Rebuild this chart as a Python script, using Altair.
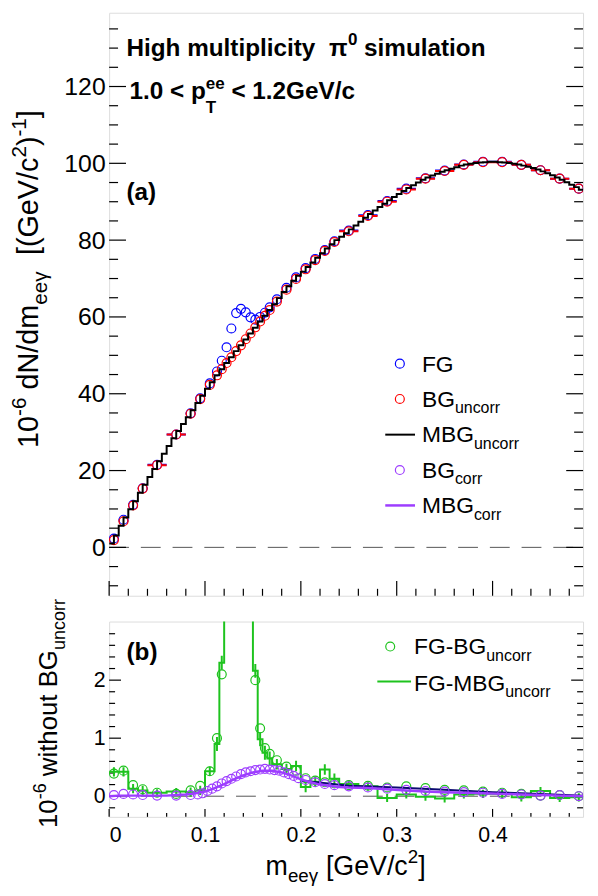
import altair as alt
import pandas as pd

FONT = "Liberation Sans"

# ---------------- data ----------------
# variable binning shared by FG, BG_uncorr and the FG-BG differences
bin_edges = [0.0, 0.01, 0.02, 0.03, 0.04, 0.06, 0.08, 0.09, 0.10, 0.11, 0.115, 0.12,
             0.125, 0.13, 0.135, 0.14, 0.145, 0.15, 0.155, 0.16, 0.165, 0.17, 0.18,
             0.19, 0.20, 0.21, 0.22, 0.23, 0.24, 0.26, 0.28, 0.30, 0.32, 0.34, 0.36,
             0.38, 0.40, 0.42, 0.44, 0.46, 0.48, 0.50]
fg = [2.3, 7.2, 11.1, 15.4, 21.5, 29.4, 34.9, 38.8, 42.7, 45.8, 48.6, 52.1, 57.0, 61.0,
      62.1, 61.2, 59.9, 59.3, 60.0, 61.1, 62.5, 64.6, 67.6, 70.3, 72.7, 75.1, 77.4, 79.7,
      82.5, 86.5, 90.2, 93.4, 96.1, 98.1, 99.7, 100.4, 100.4, 99.6, 98.2, 96.0, 93.4]
bg_uncorr = [1.9, 6.8, 10.9, 15.3, 21.4, 29.4, 34.8, 38.6, 42.3, 44.8, 46.4, 48.0, 49.5,
             51.1, 52.6, 54.2, 55.7, 57.3, 58.8, 60.3, 61.8, 64.0, 67.1, 69.9, 72.4, 74.8,
             77.2, 79.5, 82.3, 86.3, 90.0, 93.2, 96.0, 98.0, 99.6, 100.3, 100.3, 99.6,
             98.2, 96.0, 93.4]
fg_minus_bg = [0.39, 0.44, 0.19, 0.12, 0.06, 0.04, 0.10, 0.18, 0.43, 1.0, 2.1, 4.1, 7.5,
               9.9, 9.5, 7.0, 4.2, 2.0, 1.17, 0.83, 0.73, 0.62, 0.51, 0.44, 0.31, 0.27,
               0.24, 0.22, 0.19, 0.18, 0.15, 0.17, 0.14, 0.11, 0.10, 0.08, 0.06, 0.04,
               0.01, 0.02, 0.0]
fg_minus_mbg = [0.42, 0.42, 0.13, 0.10, 0.06, 0.08, 0.07, 0.10, 0.43, 0.90, 2.3, 4.3, 7.6,
                10.0, 9.6, 7.1, 4.3, 2.16, 0.98, 0.75, 0.65, 0.55, 0.47, 0.52, 0.16, 0.25,
                0.46, 0.30, 0.21, 0.17, -0.03, 0.03, -0.01, -0.04, 0.03, 0.04, 0.04,
                -0.02, 0.09, -0.03, -0.02]
fg_minus_mbg_err = [0.08, 0.08, 0.08, 0.08, 0.06, 0.06, 0.08, 0.08, 0.08,
                    0.12, 0.12, 0.12, 0.12, 0.12, 0.12, 0.12, 0.12, 0.12, 0.12, 0.12, 0.12,
                    0.09, 0.09, 0.09, 0.09, 0.09, 0.09, 0.09,
                    0.07, 0.07, 0.07, 0.07, 0.07, 0.07, 0.07, 0.07, 0.07, 0.07, 0.07, 0.07, 0.07]

# MBG_uncorr histogram: uniform bins of 0.005 starting at 0
mbg_start = 0.0
mbg_width = 0.005
mbg_uncorr = [1.0, 3.1, 5.6, 7.8, 9.9, 12.0, 14.2, 16.3, 18.3, 20.4,
              22.4, 24.4, 26.4, 28.4, 30.3, 32.1, 33.9, 35.7, 37.6, 39.5,
              41.3, 43.0, 44.8, 46.4, 48.0, 49.5, 51.1, 52.6, 54.1, 55.7,
              57.2, 58.8, 60.3, 61.8, 63.3, 64.9, 66.5, 68.0, 69.4, 70.7,
              71.8, 73.0, 74.2, 75.4, 76.6, 77.8, 78.9, 80.0, 80.9, 81.8,
              82.8, 83.8, 84.8, 85.8, 86.8, 87.7, 88.6, 89.5, 90.4, 91.2,
              92.0, 92.8, 93.6, 94.3, 95.0, 95.7, 96.3, 96.8, 97.3, 97.8,
              98.2, 98.6, 99.0, 99.4, 99.7, 99.9, 100.1, 100.2, 100.3, 100.4,
              100.4, 100.3, 100.2, 100.1, 99.9, 99.7, 99.4, 99.1, 98.8, 98.4,
              97.9, 97.4, 96.9, 96.3, 95.7, 95.1, 94.4, 93.8, 93.1]

bgcorr_x = [0.005, 0.015, 0.025, 0.035, 0.05, 0.07, 0.085,
            0.0925, 0.0975, 0.1025, 0.1075, 0.1125, 0.1175, 0.1225, 0.1275, 0.1325,
            0.1375, 0.1425, 0.1475, 0.1525, 0.1575, 0.1625, 0.1675, 0.1725, 0.1775,
            0.1825, 0.1875, 0.1925, 0.1975,
            0.205, 0.215, 0.225, 0.235,
            0.25, 0.27, 0.29, 0.31, 0.33, 0.35, 0.37, 0.39, 0.41, 0.43, 0.45, 0.47, 0.49]
bgcorr_y = [0.02, 0.04, 0.03, 0.02, 0.01, 0.01, 0.02,
            0.03, 0.05, 0.09, 0.13, 0.17, 0.22, 0.26, 0.30, 0.34, 0.38, 0.41, 0.43,
            0.45, 0.46, 0.47, 0.46, 0.45, 0.44, 0.41, 0.38, 0.35, 0.31,
            0.28, 0.24, 0.21, 0.19,
            0.17, 0.15, 0.13, 0.11, 0.09, 0.08, 0.07, 0.06, 0.04, 0.03, 0.01, 0.02, 0.0]

mbgcorr_x = [0.0, 0.01, 0.02, 0.03, 0.04, 0.05, 0.06, 0.07, 0.08, 0.09, 0.10, 0.11, 0.12,
             0.13, 0.14, 0.15, 0.16, 0.17, 0.18, 0.19, 0.20, 0.21, 0.22, 0.23, 0.24, 0.25,
             0.27, 0.29, 0.31, 0.33, 0.35, 0.37, 0.39, 0.41, 0.43, 0.45, 0.47, 0.4944]
mbgcorr_y = [0.0, 0.01, 0.01, 0.01, 0.01, 0.01, 0.01, 0.02, 0.03, 0.05, 0.08, 0.14, 0.21,
             0.29, 0.36, 0.41, 0.44, 0.44, 0.41, 0.36, 0.29, 0.24, 0.20, 0.18, 0.16, 0.15,
             0.14, 0.12, 0.10, 0.08, 0.07, 0.06, 0.05, 0.04, 0.03, 0.02, 0.01, 0.0]

navy_x = [0.20, 0.25, 0.30, 0.35, 0.40, 0.45, 0.4944]
navy_y = [0.27, 0.18, 0.15, 0.11, 0.07, 0.04, 0.01]

x_ticks_major = [0, 0.1, 0.2, 0.3, 0.4]
x_ticks_minor = [0.02, 0.04, 0.06, 0.08, 0.12, 0.14, 0.16, 0.18, 0.22, 0.24, 0.26, 0.28,
                 0.32, 0.34, 0.36, 0.38, 0.42, 0.44, 0.46, 0.48]
yT_ticks_major = [0, 20, 40, 60, 80, 100, 120]
yT_ticks_minor = [-10, -5, 5, 10, 15, 25, 30, 35, 45, 50, 55, 65, 70, 75, 85, 90, 95,
                  105, 110, 115, 125, 130, 135]
yB_ticks_major = [0, 1, 2]
yB_ticks_minor = [-0.2, 0.2, 0.4, 0.6, 0.8, 1.2, 1.4, 1.6, 1.8, 2.2, 2.4, 2.6, 2.8]

# ---------------- colours / layout ----------------
BLUE, RED, BLACK = "#0000ff", "#ff0000", "#000000"
PURPLE, GREEN, NAVY = "#9d3dff", "#1ec31e", "#0b0b70"

W, H1, H2, GAP = 478, 588, 197, 26
X0 = 107.5            # page x of the plot frames
Y0T = 8.8             # page y of the top frame
Y0B = Y0T + H1 + GAP  # page y of the bottom frame
MARKER_GAP = 0.0047   # error bars are not drawn inside the marker (ROOT style)

xscale = alt.Scale(domain=[0, 0.4944], nice=False, zero=False)
ysT = alt.Scale(domain=[-12.6, 139.2], nice=False, zero=False)
ysB = alt.Scale(domain=[-0.356, 3.01], nice=False, zero=False)

axT = alt.Axis(values=yT_ticks_major, ticks=False, tickSize=0, domain=False, grid=False,
               labelFontSize=25, labelFont=FONT, labelColor="black", labelPadding=4,
               title=None)
axB = alt.Axis(values=yB_ticks_major, ticks=False, tickSize=0, domain=False, grid=False,
               labelFontSize=21.5, labelFont=FONT, labelColor="black", labelPadding=4,
               format="d", title=None)
axX = alt.Axis(values=x_ticks_major, ticks=False, tickSize=0, domain=False, grid=False,
               labelFontSize=21.5, labelFont=FONT, labelColor="black", labelPadding=8,
               format=".1~f", labelBaseline="top", title=None)


def XT(f):
    return alt.X(f, type="quantitative", scale=xscale, axis=None)


def XB(f):
    return alt.X(f, type="quantitative", scale=xscale, axis=axX)


def YT(f):
    return alt.Y(f, type="quantitative", scale=ysT, axis=axT)


def YB(f):
    return alt.Y(f, type="quantitative", scale=ysB, axis=axB)


ONE = pd.DataFrame({"k": [0]})

# ---- text helpers (Arial / Liberation Sans advance widths) ----
REGW = {' ': 278, '(': 333, ')': 333, '[': 278, ']': 278, '/': 278, '-': 333, '<': 584,
        '.': 278, 'A': 667, 'B': 667, 'C': 722, 'F': 611, 'G': 778, 'H': 722, 'M': 833,
        'N': 722, 'T': 611, 'V': 667, 'a': 556, 'b': 556, 'c': 500, 'd': 556, 'e': 556,
        'g': 556, 'h': 556, 'i': 222, 'l': 222, 'm': 833, 'n': 556, 'o': 556, 'p': 556,
        'r': 333, 's': 500, 't': 278, 'u': 556, 'w': 722, 'y': 500, 'γ': 520, 'π': 556}
BOLDW = {' ': 278, '(': 333, ')': 333, '<': 584, '.': 278, '/': 278, 'G': 778, 'H': 722,
         'T': 611, 'V': 667, 'a': 556, 'b': 611, 'c': 556, 'e': 556, 'g': 611, 'h': 611,
         'i': 278, 'l': 278, 'm': 889, 'n': 611, 'o': 611, 'p': 611, 's': 556, 't': 333,
         'u': 611, 'y': 556, 'π': 780}


def tw(s, size, bold):
    tab = BOLDW if bold else REGW
    return sum(tab.get(ch, 556) for ch in s) * size / 1000.0


def text_layer(t, x, y, size, bold, rot, color):
    return alt.Chart(ONE).mark_text(
        text=t, fontSize=size, font=FONT, fontWeight="bold" if bold else "normal",
        align="left", baseline="alphabetic", angle=270 if rot else 0, color=color
    ).encode(x=alt.value(x), y=alt.value(y))


def rich(pieces, x, y, size, bold=False, rot=False, anchor="start", color="black",
         small=0.7, sup_shift=0.42, sub_shift=0.29, stack_sub=0.55):
    items, total = [], 0.0
    for p in pieces:
        if p[0] == "n":
            w = tw(p[1], size, bold)
        elif p[0] in ("sup", "sub"):
            w = tw(p[1], size * small, bold)
        else:
            w = max(tw(p[1], size * small, bold), tw(p[2], size * small, bold))
        items.append((p, w))
        total += w
    pos = {"start": 0.0, "end": -total, "middle": -total / 2}[anchor]
    layers = []
    for p, w in items:
        if p[0] == "n":
            segs = [(p[1], size, 0.0)]
        elif p[0] == "sup":
            segs = [(p[1], size * small, -sup_shift * size)]
        elif p[0] == "sub":
            segs = [(p[1], size * small, sub_shift * size)]
        else:
            segs = [(p[1], size * small, -sup_shift * size),
                    (p[2], size * small, stack_sub * size)]
        for t, s, off in segs:
            lead = len(t) - len(t.lstrip(' '))
            shift = tw(' ' * lead, s, bold)
            tt = t.strip()
            if not tt:
                continue
            if rot:
                layers.append(text_layer(tt, x + off, y - (pos + shift), s, bold, rot, color))
            else:
                layers.append(text_layer(tt, x + pos + shift, y + off, s, bold, rot, color))
        pos += w
    return layers


def pxl(xp):
    return xp - X0


def pT(yp):
    return yp - Y0T


def pB(yp):
    return yp - Y0B


def marker(x, y, color):
    return alt.Chart(ONE).mark_point(shape="circle", filled=False, size=81, strokeWidth=1.2,
                                     color=color, opacity=1).encode(x=alt.value(x), y=alt.value(y))


def legline(x1, x2, y, color, w):
    return alt.Chart(ONE).mark_rule(color=color, strokeWidth=w).encode(
        x=alt.value(x1), x2=alt.value(x2), y=alt.value(y))


# ---------------- tables built from the arrays ----------------
bins = pd.DataFrame({"lo": bin_edges[:-1], "hi": bin_edges[1:], "fg": fg, "bg": bg_uncorr,
                     "d1": fg_minus_bg, "d2": fg_minus_mbg, "err": fg_minus_mbg_err})
bins["c"] = (bins["lo"] + bins["hi"]) / 2
bins["d2lo"] = bins["d2"] - bins["err"]
bins["d2hi"] = bins["d2"] + bins["err"]

# horizontal (bin-width) error bars, split around the marker
left = pd.DataFrame({"a": bins["lo"], "b": bins["c"] - MARKER_GAP, "fg": bins["fg"], "bg": bins["bg"]})
right = pd.DataFrame({"a": bins["c"] + MARKER_GAP, "b": bins["hi"], "fg": bins["fg"], "bg": bins["bg"]})
xbars = pd.concat([left, right], ignore_index=True)
xbars = xbars[xbars["b"] > xbars["a"]].reset_index(drop=True)

mbg_edges = [mbg_start + i * mbg_width for i in range(len(mbg_uncorr) + 1)]
mbg_step = pd.DataFrame({"x": mbg_edges, "y": mbg_uncorr + [mbg_uncorr[-1]]})
green_step = pd.DataFrame({"x": bin_edges, "y": fg_minus_mbg + [fg_minus_mbg[-1]]})
bgcorr = pd.DataFrame({"x": bgcorr_x, "y": bgcorr_y})
mbgcorr = pd.DataFrame({"x": mbgcorr_x, "y": mbgcorr_y})
navy = pd.DataFrame({"x": navy_x, "y": navy_y})
zero = pd.DataFrame({"v": [0]})


def yticks(vals, Yf, length):
    df = pd.DataFrame({"v": vals})
    lft = alt.Chart(df).mark_rule(color="black", strokeWidth=1.2).encode(
        y=Yf("v"), x=alt.value(0), x2=alt.value(length))
    rgt = alt.Chart(df).mark_rule(color="black", strokeWidth=1.2).encode(
        y=Yf("v"), x=alt.value(W - length), x2=alt.value(W))
    return [lft, rgt]


def xticks(vals, Xf, length, H):
    df = pd.DataFrame({"v": vals})
    return [alt.Chart(df).mark_rule(color="black", strokeWidth=1.2).encode(
        x=Xf("v"), y=alt.value(H - length), y2=alt.value(H))]


# ---------------- top panel ----------------
top_layers = [
    alt.Chart(ONE).mark_rule(color="white", strokeWidth=1).encode(
        x=alt.value(-99), y=alt.value(0), y2=alt.value(2)),
    alt.Chart(zero).mark_rule(color="#555555", strokeWidth=1, strokeDash=[20, 12]).encode(
        y=YT("v"), x=alt.value(0), x2=alt.value(W)),
]
top_layers += yticks(yT_ticks_major, YT, 17) + yticks(yT_ticks_minor, YT, 9)
top_layers += xticks(x_ticks_major, XT, 15, H1) + xticks(x_ticks_minor, XT, 7, H1)
top_layers += [
    alt.Chart(xbars).mark_rule(color=BLUE, strokeWidth=2, clip=True).encode(
        x=XT("a"), x2=alt.X2("b"), y=YT("fg")),
    alt.Chart(bins).mark_point(shape="circle", filled=False, size=81, strokeWidth=1.2,
                               color=BLUE, opacity=1, clip=True).encode(x=XT("c"), y=YT("fg")),
    alt.Chart(xbars).mark_rule(color=RED, strokeWidth=2, clip=True).encode(
        x=XT("a"), x2=alt.X2("b"), y=YT("bg")),
    alt.Chart(bins).mark_point(shape="circle", filled=False, size=81, strokeWidth=1.2,
                               color=RED, opacity=1, clip=True).encode(x=XT("c"), y=YT("bg")),
    alt.Chart(mbg_step).mark_line(color=BLACK, strokeWidth=2, interpolate="step-after",
                                  clip=True).encode(x=XT("x"), y=YT("y")),
]
# annotations
top_layers += rich([("n", "High multiplicity  "), ("n", "π"), ("sup", "0"), ("n", " simulation")],
                   pxl(125), pT(52), 24.5, bold=True)
top_layers += rich([("n", "1.0 < p"), ("stack", "ee", "T"), ("n", " < 1.2GeV/c")],
                   pxl(128), pT(96), 24.5, bold=True)
top_layers += rich([("n", "(a)")], pxl(125), pT(198), 24.5, bold=True)
# legend
top_layers += [marker(pxl(400.7), pT(362.7), BLUE)]
top_layers += rich([("n", "FG")], pxl(423), pT(370.7), 23)
top_layers += [marker(pxl(400.7), pT(398.3), RED)]
top_layers += rich([("n", "BG"), ("sub", "uncorr")], pxl(423), pT(406), 23)
top_layers += [legline(pxl(386), pxl(416), pT(434.3), BLACK, 2)]
top_layers += rich([("n", "MBG"), ("sub", "uncorr")], pxl(423), pT(441.7), 23)
top_layers += [marker(pxl(400.7), pT(470), PURPLE)]
top_layers += rich([("n", "BG"), ("sub", "corr")], pxl(423), pT(477.7), 23)
top_layers += [legline(pxl(386), pxl(416), pT(505.7), PURPLE, 2.5)]
top_layers += rich([("n", "MBG"), ("sub", "corr")], pxl(423), pT(513.3), 23)
# y title
top_layers += rich([("n", "10"), ("sup", "-6"), ("n", " dN/dm"), ("sub", "eeγ"),
                    ("n", "  [(GeV/c"), ("sup", "2"), ("n", ")"), ("sup", "-1"), ("n", "]")],
                   pxl(36), pT(107), 29, rot=True, anchor="end", small=0.72)

top = alt.layer(*top_layers).properties(width=W, height=H1)

# ---------------- bottom panel ----------------
bot_layers = [
    alt.Chart(zero).mark_rule(color="#555555", strokeWidth=1, strokeDash=[20, 12]).encode(
        y=YB("v"), x=alt.value(0), x2=alt.value(W)),
]
bot_layers += yticks(yB_ticks_major, YB, 12) + yticks(yB_ticks_minor, YB, 6)
bot_layers += xticks(x_ticks_major, XB, 8, H2) + xticks(x_ticks_minor, XB, 4, H2)
bot_layers += [
    alt.Chart(green_step).mark_line(color=GREEN, strokeWidth=2, interpolate="step-after",
                                    clip=True).encode(x=XB("x"), y=YB("y")),
    alt.Chart(bins).mark_rule(color=GREEN, strokeWidth=2, clip=True).encode(
        x=XB("c"), y=YB("d2lo"), y2=alt.Y2("d2hi")),
    alt.Chart(bins).mark_point(shape="circle", filled=False, size=81, strokeWidth=1.2,
                               color=GREEN, opacity=1, clip=True).encode(x=XB("c"), y=YB("d1")),
    alt.Chart(navy).mark_line(color=NAVY, strokeWidth=2, clip=True).encode(
        x=XB("x"), y=YB("y")),
    alt.Chart(bgcorr).mark_point(shape="circle", filled=False, size=81, strokeWidth=1.2,
                                 color=PURPLE, opacity=1, clip=True).encode(x=XB("x"), y=YB("y")),
    alt.Chart(mbgcorr).mark_line(color=PURPLE, strokeWidth=2.5, clip=True).encode(
        x=XB("x"), y=YB("y")),
]
bot_layers += rich([("n", "(b)")], pxl(125), pB(662), 24.5, bold=True)
bot_layers += [marker(pxl(391), pB(648), GREEN)]
bot_layers += rich([("n", "FG-BG"), ("sub", "uncorr")], pxl(415), pB(656), 23)
bot_layers += [legline(pxl(378), pxl(412), pB(683.3), GREEN, 2)]
bot_layers += rich([("n", "FG-MBG"), ("sub", "uncorr")], pxl(415), pB(692.7), 23)
bot_layers += rich([("n", "10"), ("sup", "-6"), ("n", " without BG"), ("sub", "uncorr")],
                   pxl(55), pB(600), 26, rot=True, anchor="end")
bot_layers += rich([("n", "m"), ("sub", "eeγ"), ("n", " [GeV/c"), ("sup", "2"), ("n", "]")],
                   pxl(346), pB(878), 27, anchor="middle")

bottom = alt.layer(*bot_layers).properties(width=W, height=H2)

chart = alt.vconcat(top, bottom, spacing=GAP, bounds="flush").properties(
    padding={"left": 0, "top": 0, "right": 5, "bottom": 4}
).configure_view(stroke="black", strokeWidth=1.6).configure(background="white")

chart.save("out.html", embed_options={"renderer": "svg", "actions": False})
